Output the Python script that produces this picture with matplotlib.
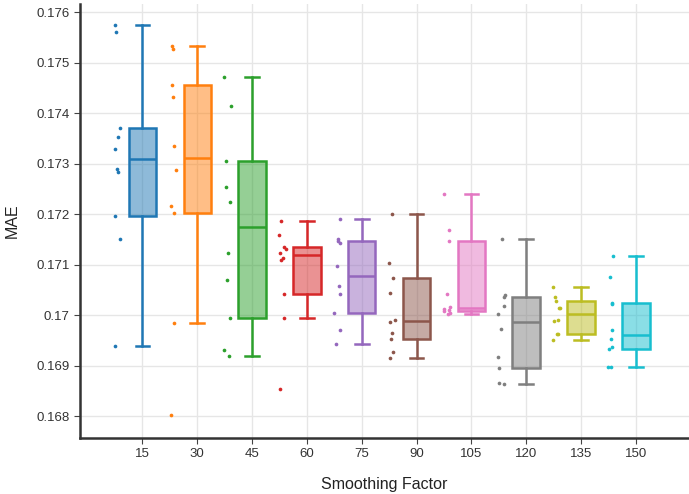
import numpy as np
import matplotlib
matplotlib.use("Agg")
import matplotlib.pyplot as plt

plt.rcParams['font.family'] = ['Liberation Sans', 'DejaVu Sans']

categories = ["15", "30", "45", "60", "75", "90", "105", "120", "135", "150"]
colors = ["#1f77b4", "#ff7f0e", "#2ca02c", "#d62728", "#9467bd",
          "#8c564b", "#e377c2", "#7f7f7f", "#bcbd22", "#17becf"]

mae_15 = [0.17575, 0.17560, 0.17370, 0.17353, 0.17329, 0.17290, 0.17283, 0.17197, 0.17150, 0.16939]
mae_30 = [0.17533, 0.17527, 0.17455, 0.17432, 0.17335, 0.17288, 0.17216, 0.17203, 0.16985, 0.16802]
mae_45 = [0.17472, 0.17414, 0.17306, 0.17253, 0.17225, 0.17124, 0.17070, 0.16995, 0.16931, 0.16920]
mae_60 = [0.17187, 0.17158, 0.17135, 0.17131, 0.17123, 0.17114, 0.17110, 0.17042, 0.16994, 0.16853]
mae_75 = [0.17190, 0.17150, 0.17147, 0.17143, 0.17097, 0.17058, 0.17042, 0.17005, 0.16970, 0.16944]
mae_90 = [0.17201, 0.17104, 0.17074, 0.17044, 0.16990, 0.16986, 0.16964, 0.16953, 0.16927, 0.16916]
mae_105 = [0.17239, 0.17168, 0.17147, 0.17042, 0.17017, 0.17013, 0.17010, 0.17008, 0.17005, 0.17003]
mae_120 = [0.17150, 0.17040, 0.17036, 0.17019, 0.17003, 0.16972, 0.16918, 0.16895, 0.16866, 0.16863]
mae_135 = [0.17055, 0.17036, 0.17028, 0.17015, 0.17014, 0.16990, 0.16989, 0.16963, 0.16962, 0.16950]
mae_150 = [0.17117, 0.17076, 0.17024, 0.17022, 0.16970, 0.16952, 0.16937, 0.16933, 0.16897, 0.16897]

series = [mae_15, mae_30, mae_45, mae_60, mae_75, mae_90, mae_105, mae_120, mae_135, mae_150]


def box_stats(vals):
    s = np.sort(np.asarray(vals))
    n = len(s)
    med = np.median(s)
    lower = s[: n // 2]
    upper = s[(n + 1) // 2:]
    q1 = np.median(lower)
    q3 = np.median(upper)
    iqr = q3 - q1
    lo = s[s >= q1 - 1.5 * iqr].min()
    hi = s[s <= q3 + 1.5 * iqr].max()
    return dict(med=med, q1=q1, q3=q3, whislo=lo, whishi=hi, fliers=[])


fig = plt.figure(figsize=(6.89, 4.94), dpi=100)
ax = fig.add_axes([80 / 689, 1 - 438 / 494, 609 / 689, 434 / 494])

rng = np.random.default_rng(3)
for i, (vals, c) in enumerate(zip(series, colors)):
    st = box_stats(vals)
    ax.bxp([st], positions=[i], widths=0.5, showfliers=False, patch_artist=True,
           boxprops=dict(facecolor=matplotlib.colors.to_rgba(c, 0.5), edgecolor=c, linewidth=1.8),
           medianprops=dict(color=c, linewidth=1.8),
           whiskerprops=dict(color=c, linewidth=1.8),
           capprops=dict(color=c, linewidth=1.8),
           capwidths=0.25, zorder=3)
    xs = i - 0.45 + rng.uniform(-0.07, 0.07, len(vals))
    ax.scatter(xs, vals, s=7, color=c, zorder=4, linewidths=0)

ax.set_xlim(-1.14, 9.97)
ax.set_ylim(0.16757, 0.17616)
ax.set_xticks(range(len(categories)))
ax.set_xticklabels(categories)
yt = [0.168, 0.169, 0.17, 0.171, 0.172, 0.173, 0.174, 0.175, 0.176]
ax.set_yticks(yt)
ax.set_yticklabels([("%g" % v) for v in yt])
ax.grid(True, color="#e6e6e6", linewidth=1)
ax.set_axisbelow(True)
for sp in ["top", "right"]:
    ax.spines[sp].set_visible(False)
for sp in ["left", "bottom"]:
    ax.spines[sp].set_color("#333333")
    ax.spines[sp].set_linewidth(1.8)
ax.tick_params(axis="both", colors="#444444", labelcolor="#333333", labelsize=9.5,
               length=4, width=0.8, direction="out")
ax.set_xlabel("Smoothing Factor", fontsize=11.5, color="#222222", labelpad=12)
ax.set_ylabel("MAE", fontsize=11.5, color="#222222", labelpad=12)

fig.savefig("out.png", dpi=100)
